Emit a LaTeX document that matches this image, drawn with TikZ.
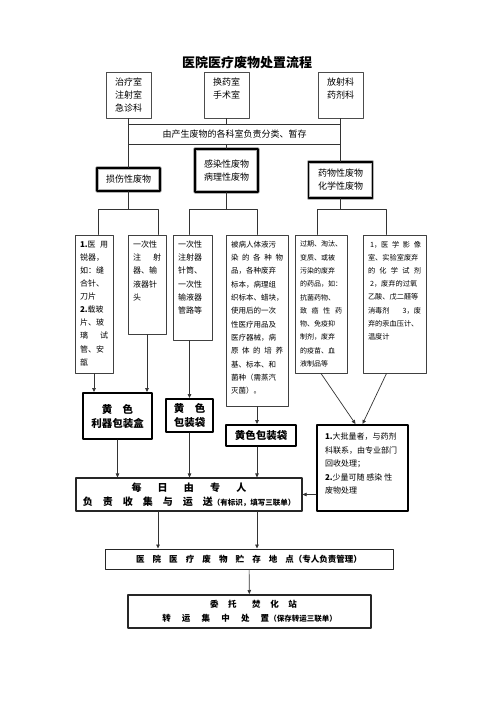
\documentclass[tikz,border=0pt]{standalone}
\usepackage{fontspec}
\setmainfont{Noto Sans CJK SC}
\usetikzlibrary{arrows.meta,calc}
\newcommand{\itemtext}[3]{\parbox[c][#2][t]{#1}{\raggedright #3}}

\begin{document}
\begin{tikzpicture}
	[line cap=round,line join=round,>={Triangle[length=4pt,width=3.6pt]},x=1pt,y=-1pt,
	line/.style={draw=black!80,line width=0.7pt},
	dept/.style={draw=black!70,line width=0.8pt,minimum width=45pt,minimum height=46pt,inner sep=0pt,align=center,font=\fontsize{9}{13}\selectfont},
	cat/.style={draw=gray!60,double=black,double distance=1.8pt,line width=1pt,inner sep=0pt,align=center,font=\fontsize{9}{13}\selectfont},
	item/.style={draw=black!75,line width=0.9pt,inner xsep=5pt,inner ysep=6pt},
	pack/.style={draw=black,line width=2pt,inner sep=0pt,align=center,font=\bfseries\fontsize{10.5}{14}\selectfont},
	flow/.style={draw=black!85,inner sep=0pt,align=center,font=\bfseries\fontsize{9}{14}\selectfont}]
	\useasboundingbox (0,0) rectangle (500,707);
	\node[font=\bfseries\fontsize{13}{15}\selectfont] (title) at (247,63) {医院医疗废物处置流程};
	% departments
	\node[dept] (dept1) at (128.5,95) {治疗室\\注射室\\急诊科};
	\node[dept] (dept2) at (226.5,95) {换药室\\手术室\\\phantom{手术室}};
	\node[dept] (dept3) at (340.5,95) {放射科\\药剂科\\\phantom{药剂科}};
	\node[draw=black!80,line width=0.8pt,minimum width=212pt,minimum height=20pt,inner sep=0pt,font=\fontsize{9}{11}\selectfont] (bar) at (234.5,134) {由产生废物的各科室负责分类、暂存};
	% waste classes
	\node[cat,minimum width=63pt,minimum height=23pt] (sunshang) at (128.5,179.5) {损伤性废物};
	\node[cat,minimum width=63pt,minimum height=43pt] (ganran) at (226.5,170.5) {感染性废物\\病理性废物};
	\node[cat,minimum width=64pt,minimum height=36pt] (yaowu) at (340.5,180) {药物性废物\\化学性废物};
	\draw[line] (dept1) -- (sunshang);
	\draw[line] (dept2) -- (dept2.south |- bar.north);
	\draw[line] (bar.south -| ganran.north) -- (ganran.north);
	\draw[line] (dept3) -- (yaowu);
	% items
	\node[item,font=\fontsize{8}{13.1}\selectfont] (item1) at (94,304) {\itemtext{28pt}{126pt}{\textbf{1.}医\hfill 用\\锐器，\\如：缝\\合针、\\刀片\\\textbf{2.}载玻\\片、玻\\璃\hfill 试\\管、安\\瓿}};
	\node[item,font=\fontsize{8}{13.1}\selectfont] (item2) at (147,284.5) {\itemtext{28pt}{87pt}{一次性\\注\hfill 射\\器、输\\液器针\\头}};
	\node[item,font=\fontsize{8}{13.1}\selectfont] (item3) at (192.5,287.5) {\itemtext{29pt}{93pt}{一次性\\注射器\\针筒、\\一次性\\输液器\\管路等}};
	\node[item,font=\fontsize{7.5}{13.3}\selectfont] (item4) at (257,320.5) {\itemtext{52pt}{159pt}{被病人体液污\\染\hfill 的\hfill 各\hfill 种\hfill 物\\品，各种废弃\\标本，病理组\\织标本、蜡块，\\使用后的一次\\性医疗用品及\\医疗器械，病\\原\hfill 体\hfill 的\hfill 培\hfill 养\\基、标本、和\\菌种（需蒸汽\\灭菌）。}};
	\node[item,font=\fontsize{7}{13.3}\selectfont] (item5) at (321,304) {\itemtext{42pt}{126pt}{过期、淘汰、\\变质、或被\\污染的废弃\\的药品，如：\\抗菌药物、\\致\hfill 癌\hfill 性\hfill 药\\物、免疫抑\\制剂，废弃\\的疫苗、血\\液制品等}};
	\node[item,font=\fontsize{7.2}{13.2}\selectfont] (item6) at (394.5,304) {\itemtext{53pt}{126pt}{\hspace{2pt}1，医\hfill 学\hfill 影\hfill 像\\室、实验室废弃\\的\hfill 化\hfill 学\hfill 试\hfill 剂\\\hspace{2pt}2，废弃的过氧\\乙酸、戊二醛等\\消毒剂\hfill 3，废\\弃的汞血压计、\\温度计}};
	\coordinate (s1) at (98,209);
	\coordinate (s2) at (158,209);
	\coordinate (g1) at (189,209);
	\coordinate (g2) at (257,209);
	\coordinate (y1) at (317,209);
	\coordinate (y2) at (386,209);
	\draw[line] (sunshang) -- (sunshang.south |- s1);
	\draw[line] (item1.north -| s1) -- (s1) -- (s2) -- (item2.north -| s2);
	\draw[line] (ganran) -- (ganran.south |- g1);
	\draw[line] (item3.north -| g1) -- (g1) -- (g2) -- (item4.north -| g2);
	\draw[line] (yaowu) -- (yaowu.south |- y1);
	\draw[line] (item5.north -| y1) -- (y1) -- (y2) -- (item6.north -| y2);
	% containers
	\node[pack,minimum width=69pt,minimum height=46pt] (liqi) at (117.5,416) {黄\quad 色\\利器包装盒};
	\node[pack,minimum width=47pt,minimum height=33pt] (daizi1) at (189.5,415.5) {黄\quad 色\\包装袋};
	\node[pack,minimum width=70pt,minimum height=21pt] (daizi2) at (261,435.5) {黄色包装袋};
	\node[item,draw=black,line width=2pt,inner xsep=8pt,inner ysep=8pt,font=\fontsize{8}{13.5}\selectfont] (chuli) at (362.5,468) {\itemtext{75pt}{70pt}{\textbf{1.}大批量者，与药剂\\科联系，由专业部门\\回收处理；\\\textbf{2.}少量可随 感染 性\\废物处理}};
	\draw[line,->] (item1.south) -- (item1.south |- liqi.north);
	\draw[line,->] (item2.south) -- (item2.south |- liqi.north);
	\draw[line,->] (daizi1.north |- item3.south) -- (daizi1.north);
	\draw[line,->] (item4.south) -- (item4.south |- daizi2.north);
	\draw[line,->] (item5.south) -- ($(chuli.north)+(-7,0)$);
	\draw[line,->] ($(item6.south)+(-8,0)$) -- (chuli.north);
	% collection and storage
	\node[flow,line width=1.2pt,minimum width=226pt,minimum height=33pt,font=\bfseries\fontsize{10}{14}\selectfont] (meiri) at (189,494.5) {\makebox[115pt]{每\hfill 日\hfill 由\hfill 专\hfill 人}\\\makebox[130pt]{负\hfill 责\hfill 收\hfill 集\hfill 与\hfill 运\hfill 送}{\fontsize{7.5}{9}\selectfont （有标识，填写三联单）}};
	\node[flow,line width=1pt,minimum width=288pt,minimum height=20pt,font=\bfseries\fontsize{8.5}{10}\selectfont] (zhucun) at (249,559) {\makebox[158pt]{医\hfill 院\hfill 医\hfill 疗\hfill 废\hfill 物\hfill 贮\hfill 存\hfill 地\hfill 点}（专人负责管理）};
	\node[flow,line width=2pt,minimum width=243pt,minimum height=33pt,font=\bfseries\fontsize{8.5}{14}\selectfont] (weituo) at (249.5,611.5) {\hspace{8pt}\makebox[87pt]{委\hfill 托\hfill\hspace{6pt}焚\hfill 化\hfill 站}\\\makebox[107pt]{转\hfill 运\hfill 集\hfill 中\hfill 处\hfill 置}{\fontsize{7.5}{9}\selectfont （保存转运三联单）}};
	\draw[line,->] (liqi.south) -- (liqi.south |- meiri.north);
	\draw[line,->] (daizi1.south) -- (daizi1.south |- meiri.north);
	\draw[line,->] (item4.south |- daizi2.south) -- (item4.south |- meiri.north);
	\draw[line,->] (chuli.west |- meiri.east) -- (meiri.east);
	\draw[line,->] (s2 |- meiri.south) -- (s2 |- zhucun.north);
	\draw[line,->] (item4.south |- meiri.south) -- (item4.south |- zhucun.north);
	\draw[line,->] (zhucun) -- (weituo);
\end{tikzpicture}
\end{document}
